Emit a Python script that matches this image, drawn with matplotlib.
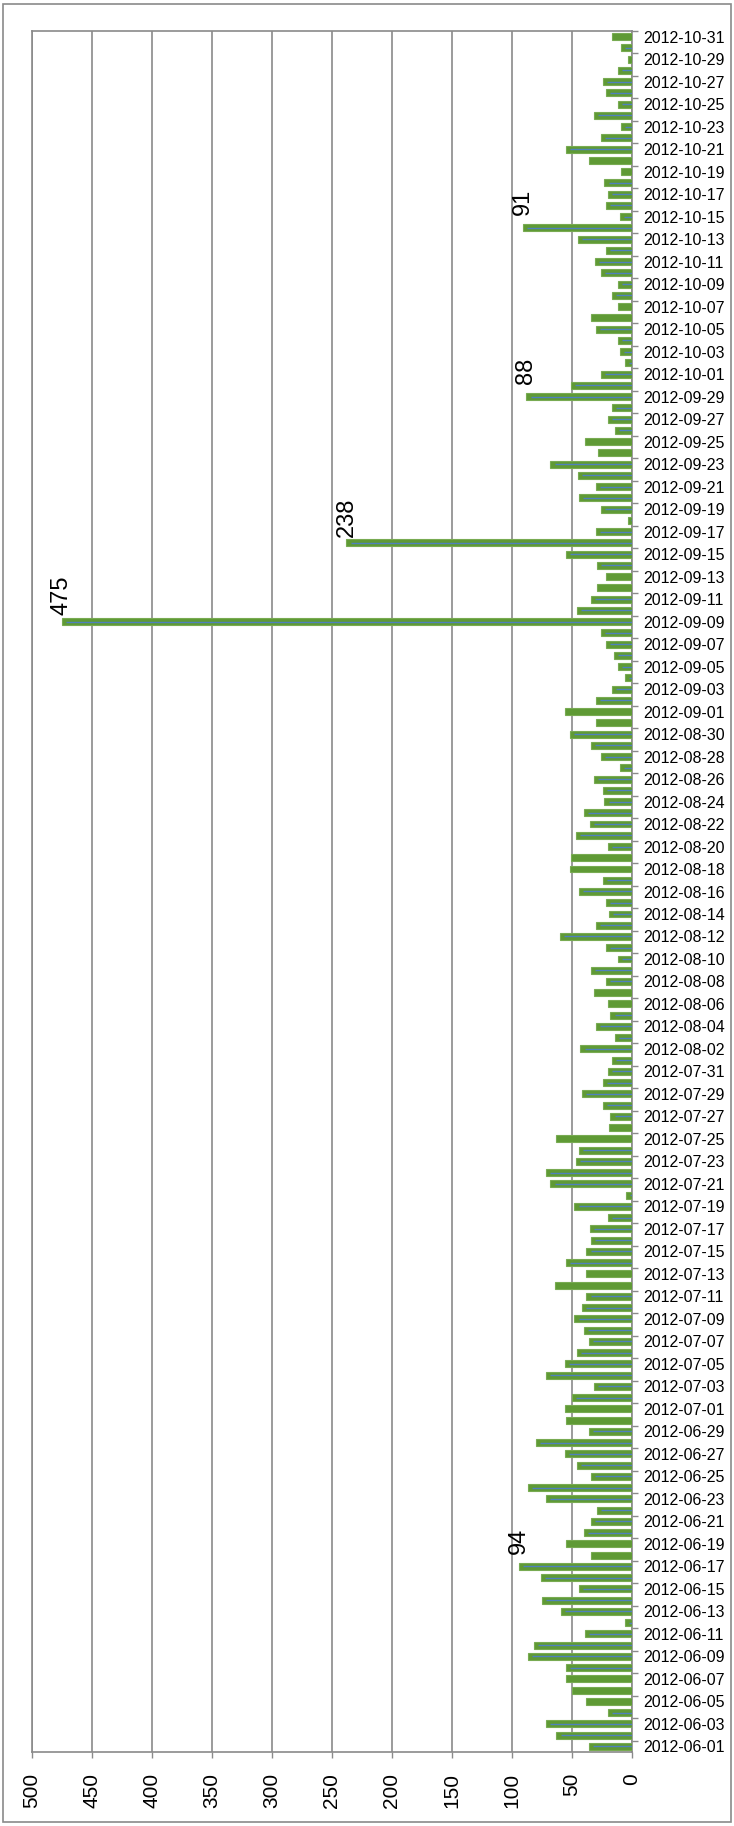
import matplotlib
matplotlib.use("Agg")
import matplotlib.pyplot as plt
from matplotlib.patches import Rectangle
import pandas as pd

plt.rcParams['font.family'] = ['Liberation Sans', 'DejaVu Sans']

# ---- data ----
dates = pd.date_range("2012-06-01", "2012-10-31", freq="D").strftime("%Y-%m-%d").tolist()
june = [36, 63, 72, 20, 38, 50, 55, 55, 87, 82, 39, 6, 59, 75, 44, 76, 94, 34, 55, 40,
        34, 29, 72, 87, 34, 46, 56, 80, 36, 55]
july = [56, 50, 32, 72, 56, 46, 36, 40, 48, 42, 38, 64, 38, 55, 38, 34, 35, 20, 48, 5,
        68, 72, 47, 44, 63, 19, 18, 24, 42, 24, 20]
august = [17, 43, 14, 30, 18, 20, 32, 22, 34, 12, 22, 60, 30, 19, 22, 44, 24, 52, 51, 20,
          47, 35, 40, 23, 24, 32, 10, 26, 34, 52, 30]
september = [56, 30, 17, 6, 12, 15, 22, 26, 475, 46, 34, 29, 22, 29, 55, 238, 30, 3, 26, 44,
             30, 45, 68, 28, 39, 14, 20, 17, 88, 51]
october = [26, 6, 10, 12, 30, 34, 12, 17, 12, 26, 31, 22, 45, 91, 10, 22, 20, 23, 9, 36,
           55, 26, 9, 32, 12, 22, 24, 12, 3, 9, 17]
values = june + july + august + september + october

labeled_dates = ["2012-06-17", "2012-09-09", "2012-09-16", "2012-09-29", "2012-10-14"]
no_core_dates = ["2012-06-05", "2012-06-06", "2012-06-07", "2012-06-18", "2012-06-19",
                 "2012-06-30", "2012-07-01", "2012-07-12", "2012-07-13", "2012-07-25",
                 "2012-07-26", "2012-08-06", "2012-08-07", "2012-08-18", "2012-08-19",
                 "2012-08-31", "2012-09-01", "2012-09-12", "2012-09-13", "2012-09-24",
                 "2012-09-25", "2012-10-06", "2012-10-07", "2012-10-19", "2012-10-20",
                 "2012-10-29", "2012-10-31"]
value_ticks = list(range(0, 501, 50))

# ---- figure ----
W, H = 734, 1826
fig = plt.figure(figsize=(W / 100, H / 100), dpi=100)
left, right, top, bottom = 32, 632, 31, 1752
ax = fig.add_axes([left / W, (H - bottom) / H, (right - left) / W, (bottom - top) / H])

grey = '#8a8a8a'
green = '#5f9a35'
blue = '#4f81bd'

ypos = list(range(len(dates)))
ax.barh(ypos, values, height=0.62, color=green, edgecolor='#78ab52', linewidth=0.8,
        zorder=3)
for i, (d, v) in enumerate(zip(dates, values)):
    if d not in no_core_dates:
        ax.plot([0, max(v - 3.5, 0.5)], [i, i], color=blue, lw=1.0, zorder=4,
                solid_capstyle='butt')
    if d in labeled_dates:
        ax.text(v, i + 2.3, str(v), rotation=90, ha='center', va='center',
                fontsize=17, color='black', zorder=5)

ax.set_xlim(500, 0)
ax.set_ylim(-0.5, len(dates) - 0.5)

ax.set_xticks(value_ticks)
ax.set_xticklabels([str(t) for t in value_ticks], rotation=90, fontsize=15)
ax.tick_params(axis='x', length=4, width=1, color=grey, pad=11)
ax.xaxis.grid(True, color=grey, linewidth=1.2, zorder=0)

ax.yaxis.tick_right()
ax.set_yticks(ypos[::2])
ax.set_yticklabels(dates[::2], fontsize=11.5)
ax.tick_params(axis='y', length=0, pad=8)
ax.set_yticks([p + 0.5 for p in ypos[::2]], minor=True)
ax.tick_params(axis='y', which='minor', length=4, width=1, color=grey)

for s in ax.spines.values():
    s.set_color(grey)
    s.set_linewidth(1.2)

fig.patches.append(Rectangle((3 / W, 4 / H), (W - 6) / W, (H - 8) / H,
                             transform=fig.transFigure, fill=False,
                             edgecolor=grey, linewidth=1.2))

fig.savefig("out.png", dpi=100)
